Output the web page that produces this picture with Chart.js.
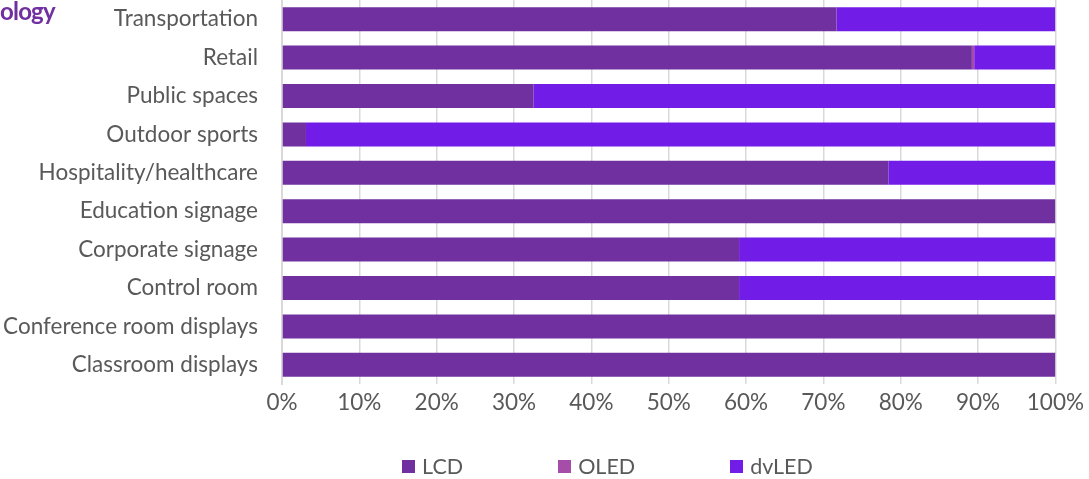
<!DOCTYPE html>
<html><head><meta charset="utf-8">
<script src="https://cdn.jsdelivr.net/npm/chart.js@4"></script>
<style>
html,body{margin:0;padding:0;background:#fff;}
#wrap{position:relative;width:1089px;height:479px;overflow:hidden;}
#title{position:absolute;left:0;top:-4px;font:bold 24px Lato, sans-serif;letter-spacing:-0.8px;color:#7030A0;white-space:nowrap;}
#legend{position:absolute;top:453px;left:126px;width:963px;display:flex;justify-content:center;gap:95px;font:21.5px Lato, sans-serif;color:#595959;}
#legend .it{display:flex;align-items:center;}
#legend .bx{width:13px;height:13px;margin-right:7px;}
canvas{position:absolute;left:0;top:0;}
</style>
</head><body>
<div id="wrap">
<canvas id="c" width="1089" height="479"></canvas>
<div id="title">ology</div>
<div id="legend"></div>
</div>
<script>
const categories = ["Transportation","Retail","Public spaces","Outdoor sports","Hospitality/healthcare","Education signage","Corporate signage","Control room","Conference room displays","Classroom displays"];
const seriesNames = ["LCD","OLED","dvLED"];
const lcd   = [71.7, 89.2, 32.5, 3.1, 78.4, 100, 59.1, 59.1, 100, 100];
const oled  = [0,    0.3,  0,    0,   0,    0,   0,    0,    0,   0];
const dvled = [28.3, 10.5, 67.5, 96.9, 21.6, 0,  40.9, 40.9, 0,   0];
const tickValues = [0,10,20,30,40,50,60,70,80,90,100];
const colors = ["#7030A0","#A54DA8","#721CE8"];

const seriesData = [lcd, oled, dvled];
const FONT = {family: "Lato, sans-serif", size: 22.5};

new Chart(document.getElementById('c'), {
  type: 'bar',
  data: {
    labels: categories,
    datasets: seriesNames.map((n,i)=>({
      label: n, data: seriesData[i], backgroundColor: colors[i],
      borderWidth: 0, barPercentage: 0.625, categoryPercentage: 1
    }))
  },
  options: {
    indexAxis: 'y',
    responsive: false,
    animation: false,
    layout: {padding: {left: 0, right: 3, top: 0, bottom: 55}},
    plugins: {legend: {display: false}, tooltip: {enabled: false}},
    scales: {
      x: {
        stacked: true, min: 0, max: 100,
        afterBuildTicks: s => { s.ticks = tickValues.map(v=>({value:v})); },
        afterFit: s => { s.height = 40; },
        ticks: {callback: v => v + '%', color: '#595959', font: FONT, padding: 5, maxRotation: 0, autoSkip: false},
        grid: {color: '#d9d9d9', lineWidth: 1.5, drawTicks: false},
        border: {display: false}
      },
      y: {
        stacked: true,
        afterFit: s => { s.width = 282; s.paddingTop = 0; s.paddingBottom = 0; },
        ticks: {color: '#595959', font: FONT, padding: 24, autoSkip: false},
        grid: {display: false, drawTicks: false},
        border: {display: true, color: '#d9d9d9', width: 2}
      }
    }
  }
});

const lg = document.getElementById('legend');
seriesNames.forEach((n,i)=>{
  const it = document.createElement('div'); it.className='it';
  const b = document.createElement('div'); b.className='bx'; b.style.background = colors[i];
  const t = document.createElement('span'); t.textContent = n;
  it.appendChild(b); it.appendChild(t); lg.appendChild(it);
});
</script>
</body></html>
